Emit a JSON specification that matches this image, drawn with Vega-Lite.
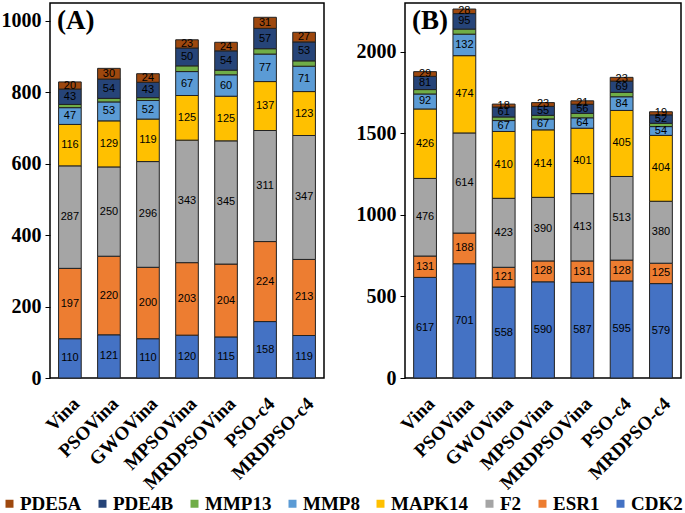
{
  "$schema": "https://vega.github.io/schema/vega-lite/v6.json",
  "background": "white",
  "padding": {"left": 0, "top": 2, "right": 0, "bottom": 0},
  "data": {"values": [
    {"p":"A","m":"Vina","t":"CDK2","v":110},{"p":"A","m":"Vina","t":"ESR1","v":197},{"p":"A","m":"Vina","t":"F2","v":287},{"p":"A","m":"Vina","t":"MAPK14","v":116},{"p":"A","m":"Vina","t":"MMP8","v":47},{"p":"A","m":"Vina","t":"MMP13","v":9},{"p":"A","m":"Vina","t":"PDE4B","v":43},{"p":"A","m":"Vina","t":"PDE5A","v":20},
    {"p":"A","m":"PSOVina","t":"CDK2","v":121},{"p":"A","m":"PSOVina","t":"ESR1","v":220},{"p":"A","m":"PSOVina","t":"F2","v":250},{"p":"A","m":"PSOVina","t":"MAPK14","v":129},{"p":"A","m":"PSOVina","t":"MMP8","v":53},{"p":"A","m":"PSOVina","t":"MMP13","v":10},{"p":"A","m":"PSOVina","t":"PDE4B","v":54},{"p":"A","m":"PSOVina","t":"PDE5A","v":30},
    {"p":"A","m":"GWOVina","t":"CDK2","v":110},{"p":"A","m":"GWOVina","t":"ESR1","v":200},{"p":"A","m":"GWOVina","t":"F2","v":296},{"p":"A","m":"GWOVina","t":"MAPK14","v":119},{"p":"A","m":"GWOVina","t":"MMP8","v":52},{"p":"A","m":"GWOVina","t":"MMP13","v":8},{"p":"A","m":"GWOVina","t":"PDE4B","v":43},{"p":"A","m":"GWOVina","t":"PDE5A","v":24},
    {"p":"A","m":"MPSOVina","t":"CDK2","v":120},{"p":"A","m":"MPSOVina","t":"ESR1","v":203},{"p":"A","m":"MPSOVina","t":"F2","v":343},{"p":"A","m":"MPSOVina","t":"MAPK14","v":125},{"p":"A","m":"MPSOVina","t":"MMP8","v":67},{"p":"A","m":"MPSOVina","t":"MMP13","v":16},{"p":"A","m":"MPSOVina","t":"PDE4B","v":50},{"p":"A","m":"MPSOVina","t":"PDE5A","v":23},
    {"p":"A","m":"MRDPSOVina","t":"CDK2","v":115},{"p":"A","m":"MRDPSOVina","t":"ESR1","v":204},{"p":"A","m":"MRDPSOVina","t":"F2","v":345},{"p":"A","m":"MRDPSOVina","t":"MAPK14","v":125},{"p":"A","m":"MRDPSOVina","t":"MMP8","v":60},{"p":"A","m":"MRDPSOVina","t":"MMP13","v":13},{"p":"A","m":"MRDPSOVina","t":"PDE4B","v":54},{"p":"A","m":"MRDPSOVina","t":"PDE5A","v":24},
    {"p":"A","m":"PSO-c4","t":"CDK2","v":158},{"p":"A","m":"PSO-c4","t":"ESR1","v":224},{"p":"A","m":"PSO-c4","t":"F2","v":311},{"p":"A","m":"PSO-c4","t":"MAPK14","v":137},{"p":"A","m":"PSO-c4","t":"MMP8","v":77},{"p":"A","m":"PSO-c4","t":"MMP13","v":15},{"p":"A","m":"PSO-c4","t":"PDE4B","v":57},{"p":"A","m":"PSO-c4","t":"PDE5A","v":31},
    {"p":"A","m":"MRDPSO-c4","t":"CDK2","v":119},{"p":"A","m":"MRDPSO-c4","t":"ESR1","v":213},{"p":"A","m":"MRDPSO-c4","t":"F2","v":347},{"p":"A","m":"MRDPSO-c4","t":"MAPK14","v":123},{"p":"A","m":"MRDPSO-c4","t":"MMP8","v":71},{"p":"A","m":"MRDPSO-c4","t":"MMP13","v":15},{"p":"A","m":"MRDPSO-c4","t":"PDE4B","v":53},{"p":"A","m":"MRDPSO-c4","t":"PDE5A","v":27},
    {"p":"B","m":"Vina","t":"CDK2","v":617},{"p":"B","m":"Vina","t":"ESR1","v":131},{"p":"B","m":"Vina","t":"F2","v":476},{"p":"B","m":"Vina","t":"MAPK14","v":426},{"p":"B","m":"Vina","t":"MMP8","v":92},{"p":"B","m":"Vina","t":"MMP13","v":27},{"p":"B","m":"Vina","t":"PDE4B","v":81},{"p":"B","m":"Vina","t":"PDE5A","v":29},
    {"p":"B","m":"PSOVina","t":"CDK2","v":701},{"p":"B","m":"PSOVina","t":"ESR1","v":188},{"p":"B","m":"PSOVina","t":"F2","v":614},{"p":"B","m":"PSOVina","t":"MAPK14","v":474},{"p":"B","m":"PSOVina","t":"MMP8","v":132},{"p":"B","m":"PSOVina","t":"MMP13","v":31},{"p":"B","m":"PSOVina","t":"PDE4B","v":95},{"p":"B","m":"PSOVina","t":"PDE5A","v":28},
    {"p":"B","m":"GWOVina","t":"CDK2","v":558},{"p":"B","m":"GWOVina","t":"ESR1","v":121},{"p":"B","m":"GWOVina","t":"F2","v":423},{"p":"B","m":"GWOVina","t":"MAPK14","v":410},{"p":"B","m":"GWOVina","t":"MMP8","v":67},{"p":"B","m":"GWOVina","t":"MMP13","v":22},{"p":"B","m":"GWOVina","t":"PDE4B","v":61},{"p":"B","m":"GWOVina","t":"PDE5A","v":18},
    {"p":"B","m":"MPSOVina","t":"CDK2","v":590},{"p":"B","m":"MPSOVina","t":"ESR1","v":128},{"p":"B","m":"MPSOVina","t":"F2","v":390},{"p":"B","m":"MPSOVina","t":"MAPK14","v":414},{"p":"B","m":"MPSOVina","t":"MMP8","v":67},{"p":"B","m":"MPSOVina","t":"MMP13","v":22},{"p":"B","m":"MPSOVina","t":"PDE4B","v":55},{"p":"B","m":"MPSOVina","t":"PDE5A","v":23},
    {"p":"B","m":"MRDPSOVina","t":"CDK2","v":587},{"p":"B","m":"MRDPSOVina","t":"ESR1","v":131},{"p":"B","m":"MRDPSOVina","t":"F2","v":413},{"p":"B","m":"MRDPSOVina","t":"MAPK14","v":401},{"p":"B","m":"MRDPSOVina","t":"MMP8","v":64},{"p":"B","m":"MRDPSOVina","t":"MMP13","v":27},{"p":"B","m":"MRDPSOVina","t":"PDE4B","v":56},{"p":"B","m":"MRDPSOVina","t":"PDE5A","v":21},
    {"p":"B","m":"PSO-c4","t":"CDK2","v":595},{"p":"B","m":"PSO-c4","t":"ESR1","v":128},{"p":"B","m":"PSO-c4","t":"F2","v":513},{"p":"B","m":"PSO-c4","t":"MAPK14","v":405},{"p":"B","m":"PSO-c4","t":"MMP8","v":84},{"p":"B","m":"PSO-c4","t":"MMP13","v":27},{"p":"B","m":"PSO-c4","t":"PDE4B","v":69},{"p":"B","m":"PSO-c4","t":"PDE5A","v":23},
    {"p":"B","m":"MRDPSO-c4","t":"CDK2","v":579},{"p":"B","m":"MRDPSO-c4","t":"ESR1","v":125},{"p":"B","m":"MRDPSO-c4","t":"F2","v":380},{"p":"B","m":"MRDPSO-c4","t":"MAPK14","v":404},{"p":"B","m":"MRDPSO-c4","t":"MMP8","v":54},{"p":"B","m":"MRDPSO-c4","t":"MMP13","v":20},{"p":"B","m":"MRDPSO-c4","t":"PDE4B","v":52},{"p":"B","m":"MRDPSO-c4","t":"PDE5A","v":19}
  ]},
  "transform": [
    {"calculate": "indexof(['CDK2','ESR1','F2','MAPK14','MMP8','MMP13','PDE4B','PDE5A'], datum.t)", "as": "ord"}
  ],
  "spacing": 30,
  "hconcat": [
    {
      "width": 274,
      "height": 375,
      "title": {"text": "(A)", "anchor": "start", "frame": "group", "dx": 7, "offset": -32, "font": "Liberation Serif", "fontWeight": "bold", "fontSize": 27, "color": "#000"},
      "transform": [
        {"filter": "datum.p == 'A'"},
        {"stack": "v", "groupby": ["m"], "sort": [{"field": "ord", "order": "ascending"}], "as": ["y0", "y1"]},
        {"calculate": "(datum.y0 + datum.y1) / 2", "as": "ym"}
      ],
      "encoding": {
        "x": {"field": "m", "type": "nominal", "sort": ["Vina","PSOVina","GWOVina","MPSOVina","MRDPSOVina","PSO-c4","MRDPSO-c4"], "scale": {"paddingInner": 0.42, "paddingOuter": 0.22}, "axis": {"title": null}}
      },
      "layer": [
        {
          "mark": {"type": "bar", "stroke": "#222", "strokeWidth": 1},
          "encoding": {
            "y": {"field": "y0", "type": "quantitative", "scale": {"domain": [0, 1050], "nice": false}, "axis": {"title": null, "format": "d", "values": [0, 200, 400, 600, 800, 1000]}},
            "y2": {"field": "y1"},
            "color": {"field": "t", "type": "nominal", "scale": {"domain": ["PDE5A","PDE4B","MMP13","MMP8","MAPK14","F2","ESR1","CDK2"], "range": ["#9E480E","#264478","#70AD47","#5B9BD5","#FFC000","#A5A5A5","#ED7D31","#4472C4"]}}
          }
        },
        {
          "transform": [{"filter": "datum.t != 'MMP13'"}],
          "mark": {"type": "text", "font": "Liberation Sans", "fontSize": 11, "color": "#000"},
          "encoding": {
            "y": {"field": "ym", "type": "quantitative"},
            "text": {"field": "v", "type": "quantitative"}
          }
        }
      ]
    },
    {
      "width": 276,
      "height": 375,
      "title": {"text": "(B)", "anchor": "start", "frame": "group", "dx": 7, "offset": -32, "font": "Liberation Serif", "fontWeight": "bold", "fontSize": 27, "color": "#000"},
      "transform": [
        {"filter": "datum.p == 'B'"},
        {"stack": "v", "groupby": ["m"], "sort": [{"field": "ord", "order": "ascending"}], "as": ["y0", "y1"]},
        {"calculate": "(datum.y0 + datum.y1) / 2", "as": "ym"}
      ],
      "encoding": {
        "x": {"field": "m", "type": "nominal", "sort": ["Vina","PSOVina","GWOVina","MPSOVina","MRDPSOVina","PSO-c4","MRDPSO-c4"], "scale": {"paddingInner": 0.42, "paddingOuter": 0.22}, "axis": {"title": null}}
      },
      "layer": [
        {
          "mark": {"type": "bar", "stroke": "#222", "strokeWidth": 1},
          "encoding": {
            "y": {"field": "y0", "type": "quantitative", "scale": {"domain": [0, 2300], "nice": false}, "axis": {"title": null, "format": "d", "values": [0, 500, 1000, 1500, 2000]}},
            "y2": {"field": "y1"},
            "color": {"field": "t", "type": "nominal", "scale": {"domain": ["PDE5A","PDE4B","MMP13","MMP8","MAPK14","F2","ESR1","CDK2"], "range": ["#9E480E","#264478","#70AD47","#5B9BD5","#FFC000","#A5A5A5","#ED7D31","#4472C4"]}}
          }
        },
        {
          "transform": [{"filter": "datum.t != 'MMP13'"}],
          "mark": {"type": "text", "font": "Liberation Sans", "fontSize": 11, "color": "#000"},
          "encoding": {
            "y": {"field": "ym", "type": "quantitative"},
            "text": {"field": "v", "type": "quantitative"}
          }
        }
      ]
    }
  ],
  "resolve": {"scale": {"color": "shared"}},
  "config": {
    "view": {"stroke": "#000", "strokeWidth": 1.5},
    "axis": {"grid": false, "domain": false, "labelColor": "#000", "labelFont": "Liberation Serif", "labelFontWeight": "bold", "tickColor": "#000"},
    "axisY": {"labelFontSize": 20, "tickSize": 5, "labelPadding": 4},
    "axisX": {"labelFontSize": 19, "labelAngle": -45, "ticks": false, "labelPadding": 16},
    "legend": {
      "orient": "none", "direction": "horizontal", "legendX": -50, "legendY": 491, "title": null,
      "symbolType": "square", "symbolSize": 64, "symbolStrokeWidth": 0,
      "labelFont": "Liberation Serif", "labelFontWeight": "bold", "labelFontSize": 19, "labelColor": "#000",
      "labelOffset": 1, "columnPadding": 11
    }
  }
}
